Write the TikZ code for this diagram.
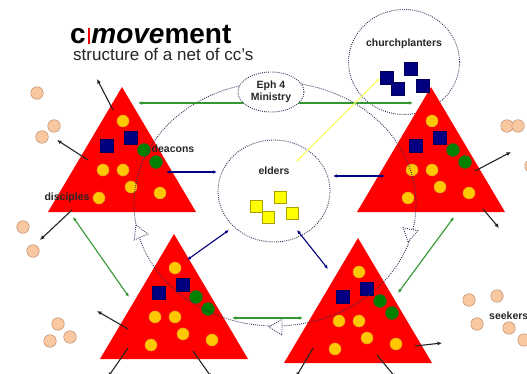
\documentclass[tikz,border=0pt]{standalone}
\usepackage{fontspec}
\setmainfont{Liberation Sans}
\usetikzlibrary{arrows.meta,shapes.geometric}
\definecolor{tred}{RGB}{255,0,0}
\definecolor{gold}{RGB}{255,200,0}
\definecolor{goldline}{RGB}{225,160,40}
\definecolor{navy}{RGB}{0,0,128}
\definecolor{dgreen}{RGB}{0,128,0}
\definecolor{dgreenline}{RGB}{70,90,40}
\definecolor{peach}{RGB}{250,200,160}
\definecolor{peachline}{RGB}{190,140,110}
\definecolor{agreen}{RGB}{50,150,50}
\definecolor{dotc}{RGB}{50,50,90}
\definecolor{ylw}{RGB}{255,255,0}
\definecolor{ylwline}{RGB}{170,160,0}
\definecolor{yline}{RGB}{255,255,110}
\tikzset{
  dots/.style={draw=dotc, line width=0.9pt, dash pattern=on 0.9pt off 1.2pt},
  peachdot/.style={circle, fill=peach, draw=peachline, line width=0.5pt, minimum size=12.5pt, inner sep=0pt},
  ydot/.style={fill=gold, draw=goldline, line width=0.5pt},
  gdot/.style={fill=dgreen, draw=dgreenline, line width=0.5pt},
  nsq/.style={fill=navy, draw=navy!70!black, line width=0.4pt},
  ysq/.style={fill=ylw, draw=ylwline, line width=0.5pt},
  lbl/.style={font=\fontsize{10.5}{12}\selectfont\bfseries, text=black!85, inner sep=0pt},
  garr/.style={draw=agreen, line width=1.1pt, {Latex[length=4pt,width=3.5pt]}-{Latex[length=4pt,width=3.5pt]}},
  barr/.style={draw=navy, line width=1.1pt, {Latex[length=4pt,width=3.5pt]}-{Latex[length=4pt,width=3.5pt]}},
  yarr/.style={draw=yline, line width=1.1pt, {Latex[length=4pt,width=3.5pt]}-{Latex[length=4pt,width=3.5pt]}},
  karr/.style={draw=black!85, line width=1.1pt, -{Latex[length=4.5pt,width=4pt]}},
  hollowhead/.style={dots, fill=white},
  church/.pic={
    \fill[tred] (0,0) -- (74,125) -- (-74,125) -- cycle;
    \foreach \px/\py in {1/34,-19/83,1/83,9/100,38/106,-23/111}
      \path[ydot] (\px,\py) circle[radius=6pt];
    \foreach \px/\py in {22/63,34/75}
      \path[gdot] (\px,\py) circle[radius=6.5pt];
    \foreach \px/\py in {-15/59,9/51}
      \path[nsq] (\px,\py) ++(-6.5,-6.5) rectangle ++(13,13);
  }
}
\begin{document}
\begin{tikzpicture}[x=1pt,y=-1pt]
\useasboundingbox (0,0) rectangle (527,374);
\clip (0,0) rectangle (527,374);
\fill[white] (0,0) rectangle (527,374);

% seekers / outside people
\foreach \n/\cx/\cy in {a/37/93,b/54/126,c/42/137,d/23/227,e/33/251,f/58/324,g/70/337,h/50/341,
  i/507/126,j/518/126,k/531/166,l/469/300,m/497/296,n/477/324,o/509/328,p/524/340}
  \node[peachdot] (p\n) at (\cx,\cy) {};

% circles
\node[dots, ellipse, minimum width=111pt, minimum height=105pt, inner sep=0pt] (planters) at (404,62) {};
\node[dots, ellipse, minimum width=112pt, minimum height=102pt, inner sep=0pt] (eldersc) at (274,191) {};

% churches
\pic at (122,87) {church};
\pic at (431,87) {church};
\pic at (174,234) {church};
\pic at (358,238) {church};

% big net circle
\node[dots, ellipse, minimum width=282pt, minimum height=244pt, inner sep=0pt] (net) at (275,204) {};
\draw[hollowhead, shift={(136,225)}, rotate=113] (0,0) -- (-13,7.5) -- (-13,-7.5) -- cycle;
\draw[hollowhead, shift={(408,242)}, rotate=-101] (0,0) -- (-13,7.5) -- (-13,-7.5) -- cycle;
\draw[hollowhead, shift={(269,327)}, rotate=180] (0,0) -- (-13,8) -- (-13,-8) -- cycle;

% top green arrow behind Eph 4
\coordinate (gt1) at (138,103); \coordinate (gt2) at (413,103);
\draw[garr] (gt1) -- (gt2);
\node[dots, ellipse, fill=white, minimum width=66pt, minimum height=40pt, inner sep=0pt, align=center, lbl] (eph) at (271,92) {Eph 4\\Ministry};

% squares
\foreach \n/\cx/\cy in {1/256/206,2/280/197,3/268/217,4/292/213}
  \path[ysq] (\cx,\cy) ++(-6,-6) rectangle ++(12,12) coordinate (ys\n);
\foreach \n/\cx/\cy in {1/387/78,2/411/69,3/398/89,4/423/86}
  \path[nsq] (\cx,\cy) ++(-6.5,-6.5) rectangle ++(13,13) coordinate (bs\n);

% yellow link
\coordinate (y1) at (380,78); \coordinate (y2) at (296,162);
\draw[yarr] (y1) -- (y2);

% navy arrows
\coordinate (n1a) at (166,172); \coordinate (n1b) at (217,172);
\coordinate (n2a) at (333,176); \coordinate (n2b) at (385,176);
\coordinate (n3a) at (229,230); \coordinate (n3b) at (187,260);
\coordinate (n4a) at (297,230); \coordinate (n4b) at (328,269);
\draw[barr] (n1a) -- (n1b);
\draw[barr] (n2a) -- (n2b);
\draw[barr] (n3a) -- (n3b);
\draw[barr] (n4a) -- (n4b);

% green arrows
\coordinate (g1a) at (73,217); \coordinate (g1b) at (129,297);
\coordinate (g2a) at (454,217); \coordinate (g2b) at (398,293);
\coordinate (g3a) at (232,318); \coordinate (g3b) at (303,318);
\draw[garr] (g1a) -- (g1b);
\draw[garr] (g2a) -- (g2b);
\draw[garr] (g3a) -- (g3b);

% black outward arrows
\foreach \n/\ax/\ay/\bx/\by in {1/113/110/97/79, 2/88/160/57/140, 3/72/210/40/240,
  4/475/171/511/152, 5/483/209/499/228,
  6/128/329/97/311, 7/128/348/108/377, 8/193/351/212/378,
  9/415/346/442/343, 10/313/348/296/377, 11/377/355/396/378}
{
  \coordinate (k\n a) at (\ax,\ay);
  \coordinate (k\n b) at (\bx,\by);
  \draw[karr] (k\n a) -- (k\n b);
}

% labels
\node[anchor=base west, inner sep=0pt, font=\fontsize{28}{28}\selectfont\bfseries] (title) at (70,44)
  {c\kern2.5pt\textcolor{tred}{\rule{1.6pt}{16pt}}\kern1.5pt\textit{move}ment};
\node[anchor=base west, inner sep=0pt, font=\fontsize{17}{17}\selectfont, text=black!85] (subtitle) at (73,61)
  {structure of a net of cc's};
\node[lbl] (cp) at (404,44) {churchplanters};
\node[lbl] (el) at (274,171) {elders};
\node[lbl] (de) at (173,149) {deacons};
\node[lbl] (di) at (67,198) {disciples};
\node[lbl, anchor=west] (se) at (489,316) {seekers};
\end{tikzpicture}
\end{document}
